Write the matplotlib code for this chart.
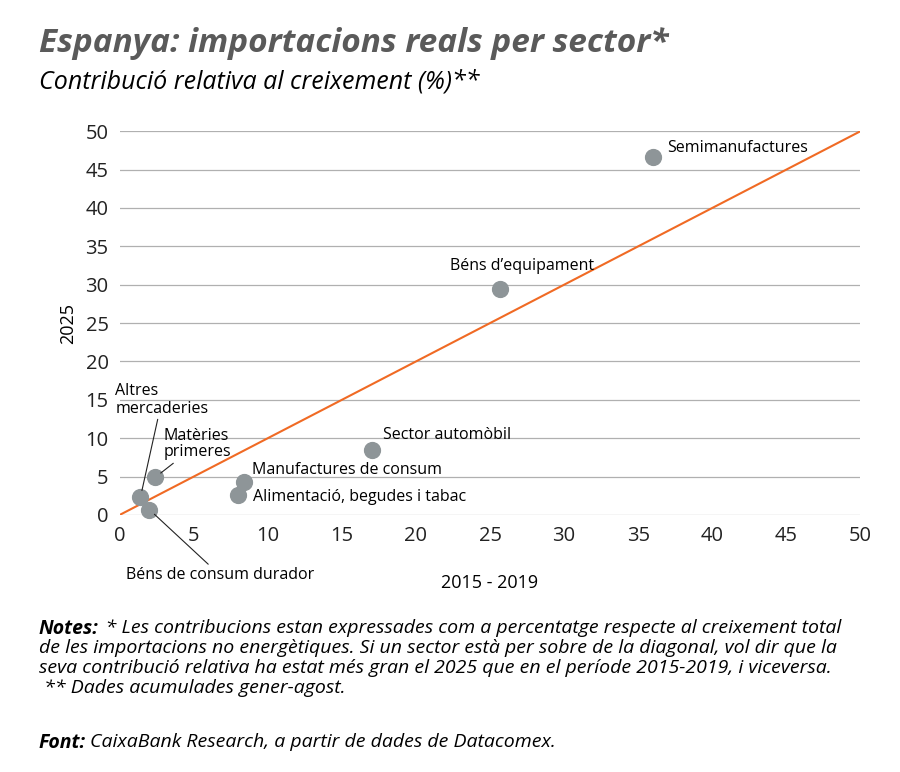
import matplotlib
matplotlib.use("Agg")
import matplotlib.pyplot as plt

plt.rcParams['font.family'] = ['Open Sans', 'DejaVu Sans']

labels = ["Semimanufactures", "Béns d’equipament", "Sector automòbil", "Manufactures de consum",
          "Alimentació, begudes i tabac", "Matèries\nprimeres", "Altres\nmercaderies", "Béns de consum durador"]
x_2015_2019 = [36.0, 25.7, 17.0, 8.4, 8.0, 2.4, 1.4, 2.0]
y_2025 = [46.6, 29.4, 8.5, 4.3, 2.6, 4.9, 2.3, 0.7]
ticks = [0, 5, 10, 15, 20, 25, 30, 35, 40, 45, 50]

fig = plt.figure(figsize=(9, 7.72), dpi=100)
ax = fig.add_axes([0.133, 0.333, 0.823, 0.497])
ax.set_xlim(0, 50); ax.set_ylim(0, 50)
ax.set_xticks(ticks); ax.set_yticks(ticks)
ax.grid(axis='y', color='#b0b0b0', lw=0.9)
ax.set_axisbelow(True)
for s in ax.spines.values():
    s.set_visible(False)
ax.tick_params(length=0, labelsize=14.5, colors='#222222', pad=8)
ax.plot([0, 50], [0, 50], color='#f06a24', lw=1.5, zorder=2)
ax.scatter(x_2015_2019, y_2025, s=130, color='#8e9598', zorder=3, clip_on=False)

fs = 11.5
ax.annotate(labels[0], (x_2015_2019[0], y_2025[0]), xytext=(10, 4), textcoords='offset points', fontsize=fs)
ax.annotate(labels[1], (x_2015_2019[1], y_2025[1]), xytext=(-36, 14), textcoords='offset points', fontsize=fs)
ax.annotate(labels[2], (x_2015_2019[2], y_2025[2]), xytext=(8, 8), textcoords='offset points', fontsize=fs)
ax.annotate(labels[3], (x_2015_2019[3], y_2025[3]), xytext=(6, 6), textcoords='offset points', fontsize=fs)
ax.annotate(labels[4], (x_2015_2019[4], y_2025[4]), xytext=(11, -4), textcoords='offset points', fontsize=fs)
ax.annotate(labels[5], (x_2015_2019[5], y_2025[5]), xytext=(6, 15), textcoords='offset points', fontsize=fs,
            linespacing=1.0, arrowprops=dict(arrowstyle='-', color='#222', lw=0.8, shrinkA=0, shrinkB=5))
ax.annotate(labels[6], (x_2015_2019[6], y_2025[6]), xytext=(-18, 61), textcoords='offset points', fontsize=fs,
            linespacing=1.1, arrowprops=dict(arrowstyle='-', color='#222', lw=0.8, shrinkA=0, shrinkB=5))
ax.annotate(labels[7], (x_2015_2019[7], y_2025[7]), xytext=(-17, -50), textcoords='offset points', fontsize=fs,
            arrowprops=dict(arrowstyle='-', color='#222', lw=0.8, shrinkA=0, shrinkB=5))

ax.set_xlabel("2015 - 2019", fontsize=13, labelpad=20)
ax.set_ylabel("2025", fontsize=13, labelpad=6)

fig.text(0.043, 0.965, "Espanya: importacions reals per sector*", fontsize=24, fontweight='bold',
         style='italic', color='#5a5a5a', va='top')
fig.text(0.043, 0.91, "Contribució relativa al creixement (%)**", fontsize=18, style='italic', va='top')

nfs = 14
ny = 0.198
t = fig.text(0.043, ny, "Notes:", fontsize=nfs, style='italic', fontweight='bold', va='top')
fig.text(0.043, ny, "             * Les contribucions estan expressades com a percentatge respecte al creixement total\n"
         "de les importacions no energètiques. Si un sector està per sobre de la diagonal, vol dir que la\n"
         "seva contribució relativa ha estat més gran el 2025 que en el període 2015-2019, i viceversa.\n"
         " ** Dades acumulades gener-agost.", fontsize=nfs, style='italic', va='top', linespacing=1.15)
fig.text(0.043, 0.05, "Font:", fontsize=nfs, style='italic', fontweight='bold', va='top')
fig.text(0.1, 0.05, "CaixaBank Research, a partir de dades de Datacomex.", fontsize=nfs, style='italic', va='top')

fig.savefig("out.png", dpi=100)
